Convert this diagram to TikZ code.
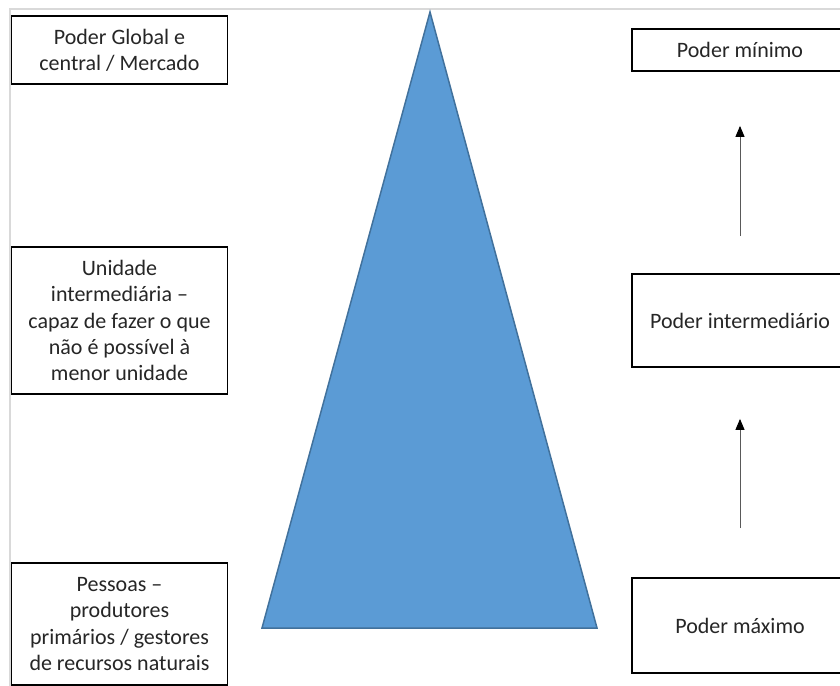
\documentclass[tikz,border=0pt]{standalone}
\usepackage{fontspec}
\setmainfont{Carlito}
\usetikzlibrary{arrows.meta}
\definecolor{tri}{HTML}{5B9BD5}
\definecolor{triedge}{HTML}{41719C}
\definecolor{pageline}{HTML}{D9D9D9}
\tikzset{
  box/.style={draw=black, line width=1.8bp, minimum width=216bp, inner sep=0pt,
    align=center, text=black!85, font=\fontsize{22bp}{26.3bp}\selectfont},
  arr/.style={line width=1bp, draw=black!65, -{Triangle[width=9bp,length=11bp,fill=black,color=black]}},
}
\begin{document}
\begin{tikzpicture}[x=1bp,y=-1bp]
\useasboundingbox (0,0) rectangle (840,686);
\clip (0,0) rectangle (840,686);
\fill[white] (0,0) rectangle (840,686);
\draw[pageline, line width=2bp] (10,686) -- (10,9) -- (840,9);
\coordinate (apex) at (430,12);
\coordinate (bl) at (262,628);
\coordinate (br) at (597,628);
\filldraw[fill=tri, draw=triedge, line width=1.5bp, line join=miter] (apex) -- (br) -- (bl) -- cycle;
\node[box, minimum height=68bp] (L1) at (119.5,50) {Poder Global e\\central / Mercado};
\node[box, minimum height=147bp] (L2) at (119.5,320.5) {Unidade\\intermediária --\\capaz de fazer o que\\não é possível à\\menor unidade};
\node[box, minimum height=122bp] (L3) at (119.5,624) {Pessoas --\\produtores\\primários / gestores\\de recursos naturais};
\node[box, minimum height=42bp] (R1) at (740,50) {Poder mínimo};
\node[box, minimum height=93bp] (R2) at (740,320.5) {Poder intermediário};
\node[box, minimum height=95bp] (R3) at (740,625.5) {Poder máximo};
\draw[arr] ([yshift=37bp]R2.north) -- ([yshift=-54bp]R1.south);
\draw[arr] ([yshift=49bp]R3.north) -- ([yshift=-51bp]R2.south);
\end{tikzpicture}
\end{document}
